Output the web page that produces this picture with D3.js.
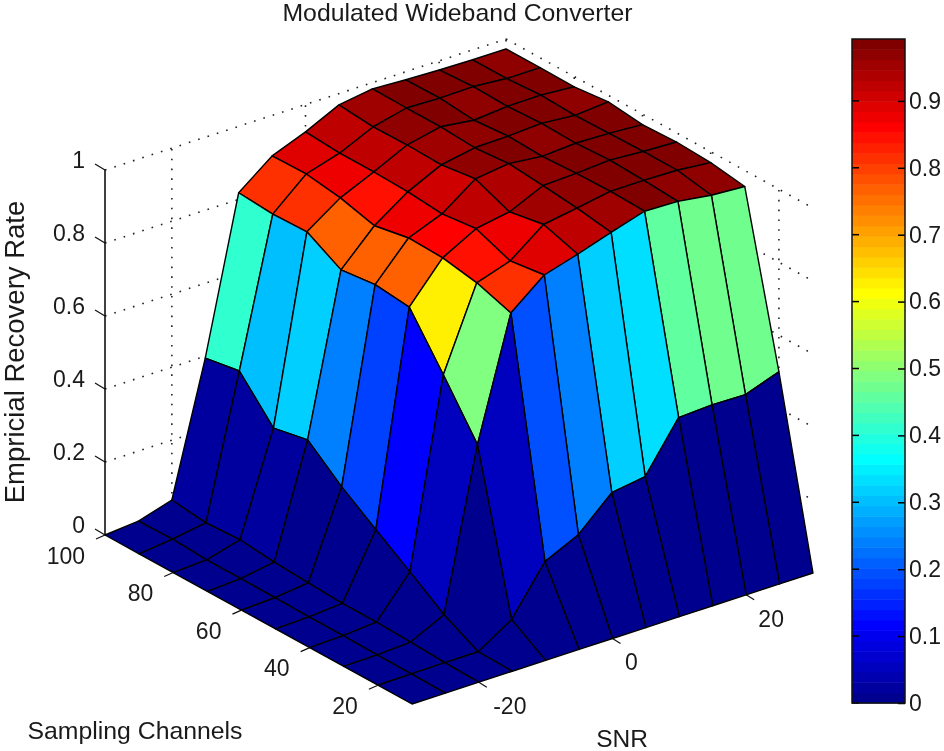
<!DOCTYPE html>
<html><head><meta charset="utf-8">
<script src="https://cdnjs.cloudflare.com/ajax/libs/d3/7.8.5/d3.min.js"></script>
<style>
html,body{margin:0;padding:0;background:#fff}
svg{display:block;filter:blur(.35px)}
text{font-family:"Liberation Sans",Arial,sans-serif;fill:#1a1a1a}
</style></head><body>
<svg id="c" width="944" height="751"></svg>
<script>
const snrValues=[-30,-25,-20,-15,-10,-5,0,5,10,15,20,25,30];
const channelValues=[100,90,80,70,60,50,40,30,20,10];
const snrTicks=[-20,0,20];
const channelTicks=[100,80,60,40,20];
const zTicks=[0,0.2,0.4,0.6,0.8,1];
const colorbarTicks=[0,0.1,0.2,0.3,0.4,0.5,0.6,0.7,0.8,0.9];
const colorMax=0.9925;
const titleText="Modulated Wideband Converter";
const zLabel="Empricial Recovery Rate";
const xLabel="SNR";
const yLabel="Sampling Channels";
// recovery rate: one row per channel count, one value per SNR column
const rate100=[0,.008,.036,.395,.818,.889,.925,.969,.983,.978,.975,.973,.973];
const rate90 =[0,.010,.025,.411,.811,.891,.918,.960,.982,.979,.981,.973,.973];
const rate80 =[0,.005,.030,.306,.814,.877,.918,.962,.982,.970,.978,.979,.972];
const rate70 =[0,.005,.020,.325,.761,.852,.915,.959,.976,.978,.983,.975,.982];
const rate60 =[0,.004,.015,.248,.772,.870,.906,.972,.984,.974,.980,.977,.971];
const rate50 =[0,.003,.010,.182,.762,.867,.917,.933,.975,.979,.985,.979,.975];
const rate40 =[0,.003,.010,.118,.628,.850,.880,.950,.965,.981,.981,.979,.970];
const rate30 =[0,.002,.007,.052,.488,.819,.893,.920,.950,.978,.975,.962,.956];
const rate20 =[0,.001,.002,.002,.060,.189,.233,.318,.332,.464,.469,.467,.500];
const rate10 =[0,0,0,0,0,0,0,0,0,0,0,0,0];
const rates=[rate100,rate90,rate80,rate70,rate60,rate50,rate40,rate30,rate20,rate10];

const svg=d3.select("#c");
const originX=105, originY=535;
const snrX=d3.scaleLinear().domain([-30,30]).range([0,401]);
const snrY=d3.scaleLinear().domain([-30,30]).range([0,-131]);
const chX=d3.scaleLinear().domain([100,10]).range([0,307]);
const chY=d3.scaleLinear().domain([100,10]).range([0,169]);
const zY=d3.scaleLinear().domain([0,1]).range([0,-365]);
const project=(s,ch,z)=>[originX+snrX(s)+chX(ch),originY+snrY(s)+chY(ch)+zY(z)];
const line=d3.line();

// MATLAB jet with 64 levels, anchored on its 1-based level numbers
const jetStops=[[1,0,0,.5625],[8,0,0,1],[24,0,1,1],[40,1,1,0],[56,1,0,0],[64,.5,0,0]];
const jetScale=d3.scaleLinear().domain(jetStops.map(d=>d[0])).range(jetStops.map(d=>d3.rgb(d[1]*255,d[2]*255,d[3]*255)));
const jetLevels=d3.range(1,65).map(i=>jetScale(i).toString());
const colour=d3.scaleQuantize().domain([0,colorMax]).range(jetLevels);

// back walls: dotted grid
const grid=svg.append("g").attr("fill","none").attr("stroke","#222").attr("stroke-width",1.6)
  .attr("stroke-dasharray","1.6 8.2");
const sMin=-30,sMax=30,cFar=100,cNear=10;
zTicks.forEach(z=>{
  grid.append("path").attr("d",line([project(sMin,cFar,z),project(sMax,cFar,z)]));
  grid.append("path").attr("d",line([project(sMax,cFar,z),project(sMax,cNear,z)]));
});
snrTicks.forEach(s=>grid.append("path").attr("d",line([project(s,cFar,0),project(s,cFar,1)])));
channelTicks.forEach(c=>grid.append("path").attr("d",line([project(sMax,c,0),project(sMax,c,1)])));

// axis lines
const ax=svg.append("g").attr("fill","none").attr("stroke","#000").attr("stroke-width",1.5);
ax.append("path").attr("d",line([project(sMin,cFar,0),project(sMin,cFar,1)]));

// surface, far cells first
const surf=svg.append("g").attr("stroke","#000").attr("stroke-width",1.4).attr("stroke-linejoin","round");
for(let c=snrValues.length-2;c>=0;c--){
  for(let r=0;r<channelValues.length-1;r++){
    const s0=snrValues[c],s1=snrValues[c+1],c0=channelValues[r],c1=channelValues[r+1];
    const pts=[project(s0,c0,rates[r][c]),project(s1,c0,rates[r][c+1]),
               project(s1,c1,rates[r+1][c+1]),project(s0,c1,rates[r+1][c])];
    surf.append("path").attr("d",line(pts)+"Z").attr("fill",colour(rates[r+1][c]));
  }
}

// ticks
const tk=svg.append("g").attr("fill","none").attr("stroke","#111").attr("stroke-width",1.2);
zTicks.forEach(z=>{const p=project(sMin,cFar,z);
  tk.append("path").attr("d",line([p,[p[0]-10,p[1]-6]]));});
channelTicks.forEach(c=>{const p=project(sMin,c,0);
  tk.append("path").attr("d",line([p,[p[0]-9,p[1]+4]]));});
snrTicks.forEach(s=>{const p=project(s,cNear,0);
  tk.append("path").attr("d",line([p,[p[0]+8,p[1]+5]]));});

// labels
const fs=23;
const lab=svg.append("g").attr("font-size",fs);
zTicks.forEach(z=>{const p=project(sMin,cFar,z);
  lab.append("text").attr("x",p[0]-20).attr("y",p[1]-10).attr("dy",".36em").attr("text-anchor","end").text(String(z));});
channelTicks.forEach(c=>{const p=project(sMin,c,0);
  lab.append("text").attr("x",p[0]-20).attr("y",p[1]+20.5).attr("dy",".36em").attr("text-anchor","end").text(c);});
const snrLabelShift=new Map([[-20,31],[0,19],[20,25]]);
snrTicks.forEach(s=>{const p=project(s,cNear,0);
  lab.append("text").attr("x",p[0]+snrLabelShift.get(s)).attr("y",p[1]+23.5).attr("dy",".36em").attr("text-anchor","middle").text(s);});
lab.append("text").attr("x",457.5).attr("y",12).attr("dy",".36em").attr("font-size",24.8).attr("text-anchor","middle").text(titleText);
lab.append("text").attr("x",135).attr("y",730).attr("dy",".36em").attr("font-size",24.8).attr("text-anchor","middle").text(yLabel);
lab.append("text").attr("x",622).attr("y",738).attr("dy",".36em").attr("font-size",24.5).attr("text-anchor","middle").text(xLabel);
lab.append("text").attr("transform","translate(14,352) rotate(-90)").attr("dy",".36em").attr("font-size",27.5).attr("text-anchor","middle").text(zLabel);

// colour bar
const barX0=852,barX1=905,barTop=39,barBottom=703;
const barY=d3.scaleLinear().domain([0,colorMax]).range([barBottom,barTop]);
const bar=svg.append("g");
bar.selectAll("rect").data(jetLevels).join("rect")
  .attr("x",barX0).attr("width",barX1-barX0)
  .attr("y",(d,i)=>barY(colorMax*(i+1)/64))
  .attr("height",(d,i)=>barY(colorMax*i/64)-barY(colorMax*(i+1)/64)+.5)
  .attr("fill",d=>d);
const barAxis=d3.axisRight(barY).tickValues(colorbarTicks).tickFormat(d=>String(d)).tickSizeInner(-7).tickSizeOuter(0).tickPadding(4);
const barG=svg.append("g").attr("transform",`translate(${barX1},0)`).call(barAxis);
barG.select(".domain").remove();
barG.selectAll("line").attr("stroke","#000").attr("stroke-width",1.5);
barG.selectAll("text").attr("font-size",fs).attr("font-family",'"Liberation Sans",Arial,sans-serif').attr("fill","#1a1a1a");
colorbarTicks.forEach(t=>bar.append("line").attr("x1",barX0).attr("x2",barX0+7).attr("y1",barY(t)).attr("y2",barY(t)).attr("stroke","#000").attr("stroke-width",1.5));
svg.append("rect").attr("x",barX0).attr("y",barTop).attr("width",barX1-barX0).attr("height",barBottom-barTop)
  .attr("fill","none").attr("stroke","#111").attr("stroke-width",1.5);
</script>
</body></html>
